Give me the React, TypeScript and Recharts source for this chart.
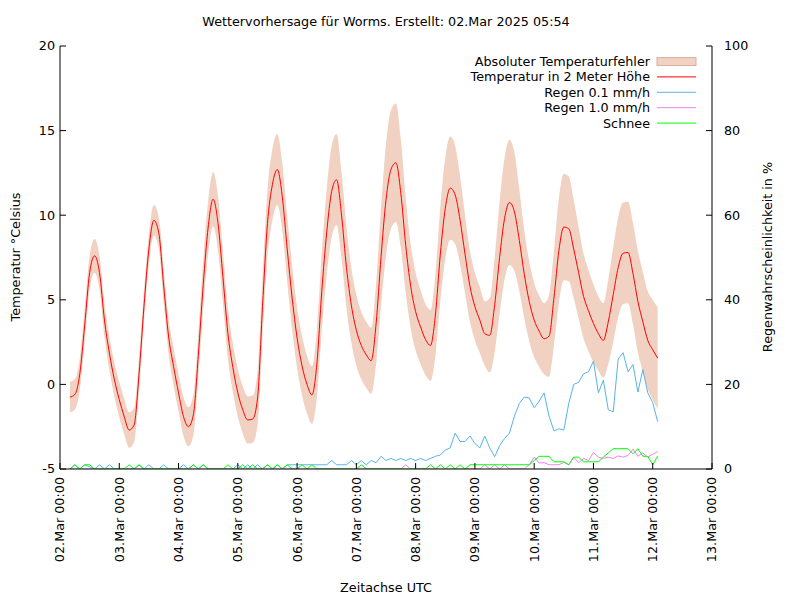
import { Area, ComposedChart, Line, XAxis, YAxis } from "recharts";

// forecast samples every 2 hours, first one at 02.Mar 04:00 UTC
const START_HOUR = 4;
const STEP_HOURS = 2;

const dayLabels = [
  "02.Mar 00:00", "03.Mar 00:00", "04.Mar 00:00", "05.Mar 00:00",
  "06.Mar 00:00", "07.Mar 00:00", "08.Mar 00:00", "09.Mar 00:00",
  "10.Mar 00:00", "11.Mar 00:00", "12.Mar 00:00", "13.Mar 00:00",
];
const dayTicks = dayLabels.map((_, i) => i * 24);
const tempTicks = [-5, 0, 5, 10, 15, 20];
const rainTicks = [0, 20, 40, 60, 80, 100];

// one row per day (12 samples)
const temperature = [
  -0.75, -0.6, 0.6, 3.5, 6.6, 7.6, 6.6, 3.8, 1.85, 0.3, -0.9, -1.9,
  -2.7, -2.4, 0.6, 4.6, 8.0, 9.7, 8.95, 5.8, 2.8, 1.05, -0.5, -1.9,
  -2.5, -1.8, 1.7, 5.9, 9.3, 10.95, 9.5, 6.3, 3.0, 1.0, -0.5, -1.5,
  -2.1, -2.05, -0.8, 4.6, 9.5, 11.8, 12.7, 11.1, 8.0, 5.1, 2.75, 1.1,
  0.0, -0.62, 1.2, 5.5, 9.0, 11.4, 12.1, 10.0, 6.9, 4.65, 3.2, 2.3,
  1.75, 1.4, 3.6, 7.55, 10.9, 12.7, 13.1, 11.3, 8.2, 5.8, 4.3, 3.4,
  2.65, 2.3, 4.1, 7.7, 10.4, 11.6, 11.2, 9.7, 7.7, 5.8, 4.6, 3.8,
  3.0, 2.9, 4.7, 7.5, 9.8, 10.75, 10.2, 8.5, 6.5, 4.9, 3.8, 3.15,
  2.7, 2.85, 5.1, 7.9, 9.3, 9.2, 8.0, 6.6, 5.2, 4.35, 3.6, 3.0,
  2.6, 3.7, 5.3, 6.9, 7.75, 7.8, 6.55, 4.9, 3.7, 2.6, 2.05, 1.55,
];

const tempError = [
  0.9, 0.9, 0.95, 1.0, 1.0, 1.0, 1.0, 1.0, 1.0, 1.0, 1.05, 1.05,
  1.05, 1.0, 1.0, 0.95, 0.9, 0.9, 0.95, 1.0, 1.05, 1.1, 1.1, 1.15,
  1.15, 1.2, 1.3, 1.45, 1.55, 1.6, 1.6, 1.55, 1.5, 1.45, 1.4, 1.4,
  1.4, 1.4, 1.6, 1.8, 2.0, 2.1, 2.1, 2.0, 1.95, 1.9, 1.8, 1.75,
  1.7, 1.7, 2.0, 2.3, 2.55, 2.7, 2.7, 2.55, 2.4, 2.2, 2.1, 2.0,
  1.95, 1.95, 2.4, 2.9, 3.3, 3.5, 3.5, 3.2, 2.8, 2.5, 2.3, 2.2,
  2.1, 2.1, 2.4, 2.8, 3.0, 3.05, 2.9, 2.6, 2.3, 2.1, 2.0, 1.95,
  1.9, 2.2, 2.8, 3.3, 3.6, 3.7, 3.5, 3.0, 2.6, 2.35, 2.2, 2.1,
  2.1, 2.4, 2.8, 3.1, 3.15, 3.1, 2.9, 2.7, 2.5, 2.4, 2.3, 2.2,
  2.2, 2.5, 2.8, 2.95, 3.0, 3.0, 3.0, 3.0, 2.95, 2.9, 2.95, 3.0,
];

const rain01 = [
  0, 1, 0, 1, 0.5, 0, 1, 0, 1, 0, 0, 0,
  0, 0, 1, 0, 1, 0, 0, 1, 0, 0, 0, 1,
  0, 1, 0, 1, 0, 0, 0, 0, 0, 0, 1, 0,
  1, 0, 1, 0, 1, 0, 1, 0, 1, 1, 1, 1,
  1, 1, 1, 1, 1, 2, 1, 1, 1, 2, 1, 2,
  1, 2, 1.5, 3, 2, 2.5, 2, 2.5, 2, 2.5, 2, 2.5,
  2, 2.5, 3, 3.3, 4.5, 5, 8.5, 6.5, 6.5, 7.8, 6, 5,
  7.8, 5, 2.9, 5.5, 7.2, 8.5, 12.5, 15.5, 17, 16.8, 14.5, 16,
  18, 12.5, 9, 9.5, 9.2, 15.5, 20, 20.5, 22.5, 23, 25.5, 18,
  21, 14, 13.5, 26, 27.5, 23, 24.7, 18.2, 23.5, 18, 15.7, 11.2,
];

const rain10 = [
  0, 0, 0, 0, 0, 0, 0, 0, 0, 0, 0, 0,
  0, 0, 0, 0, 0, 0, 0, 0, 0, 0, 0, 0,
  0, 0, 0, 0, 0, 0, 0, 0, 0, 0, 0, 0,
  0, 0, 0, 0, 0, 0, 0, 0, 0, 0, 0, 0,
  0, 0, 0, 0, 0, 0, 0, 0, 0, 0, 0, 0,
  0, 0, 0, 0, 0, 0, 0, 0, 1, 0, 0, 0,
  0, 0, 0, 0, 0, 0, 0, 0, 0, 0, 0, 0,
  1, 0, 1, 0, 1, 0, 0, 0, 0, 1, 2.8, 1.4,
  1.5, 1, 1, 1, 1.6, 1, 2.8, 1.5, 2.5, 2, 3.9, 2.8,
  2.5, 2.8, 2.5, 3.1, 2.8, 3.2, 4.7, 3, 3.8, 2.8, 3.5, 4.1,
];

const snow = [
  0, 1, 0, 1, 1, 0, 0, 0, 0, 0, 0, 0,
  1, 0, 1, 0, 0, 0, 0, 0, 0, 0, 0, 0,
  0, 1, 0, 1, 0, 0, 0, 0, 1, 0, 0, 1,
  0, 1, 0, 0, 1, 0, 1, 0, 1, 0, 0, 1,
  0, 1, 0, 0, 0, 0, 0, 0, 0, 0, 0, 1,
  0, 0, 0, 0, 0, 0, 0, 0, 0, 0, 0, 0,
  0, 1, 0, 1, 0, 1, 0, 1, 0, 1, 1, 1,
  1, 1, 1, 1, 1, 1, 1, 1, 1, 1, 2, 3,
  3, 3, 1.7, 1.7, 1.7, 1, 2.8, 2.8, 1.7, 1.7, 1.7, 1.7,
  2.8, 3.8, 4.8, 4.8, 4.8, 4.8, 3.6, 4.8, 3, 3, 1, 3.1,
];

const rows = temperature.map((t, i) => ({
  hour: START_HOUR + i * STEP_HOURS,
  temp: t,
  band: [t - tempError[i], t + tempError[i]],
  rain01: rain01[i],
  rain10: rain10[i],
  snow: snow[i],
}));

const FONT = "'DejaVu Sans', sans-serif";
const FS = 12.75;
const BAND = "#f1d1c1";
const RED = "#ff0000";
const BLUE = "#56b4e9";
const VIOLET = "#ee82ee";
const GREEN = "#00ff00";

const legendItems = [
  { label: "Absoluter Temperaturfehler", color: BAND, box: true },
  { label: "Temperatur in 2 Meter Höhe", color: RED, box: false },
  { label: "Regen 0.1 mm/h", color: BLUE, box: false },
  { label: "Regen 1.0 mm/h", color: VIOLET, box: false },
  { label: "Schnee", color: GREEN, box: false },
];

function BottomTick({ x, y, payload }: any) {
  return (
    <g>
      <line x1={x} y1={y} x2={x} y2={y - 6} stroke="#000" />
      <text
        transform={`translate(${x},${y + 8}) rotate(-90)`}
        textAnchor="end"
        dy="0.35em"
        fontSize={FS}
        fontFamily={FONT}
        fill="#000"
      >
        {dayLabels[Math.round(payload.value / 24)]}
      </text>
    </g>
  );
}

function TopTick({ x, y }: any) {
  return <line x1={x} y1={y} x2={x} y2={y + 6} stroke="#000" />;
}

function LeftTick({ x, y, payload }: any) {
  return (
    <g>
      <line x1={x} y1={y} x2={x + 6} y2={y} stroke="#000" />
      <text x={x - 5} y={y} dy="0.35em" textAnchor="end" fontSize={FS} fontFamily={FONT} fill="#000">
        {payload.value}
      </text>
    </g>
  );
}

function RightTick({ x, y, payload }: any) {
  return (
    <g>
      <line x1={x} y1={y} x2={x - 6} y2={y} stroke="#000" />
      <text x={x + 12} y={y} dy="0.35em" textAnchor="start" fontSize={FS} fontFamily={FONT} fill="#000">
        {payload.value}
      </text>
    </g>
  );
}

export default function App() {
  return (
    <div style={{ position: "relative", width: 800, height: 600, background: "#fff" }}>
      <style>{"body{margin:0}"}</style>
      <ComposedChart width={800} height={600} data={rows} margin={{ top: 46, right: 0, bottom: 0, left: 0 }}>
        <XAxis
          xAxisId="b"
          dataKey="hour"
          type="number"
          domain={[0, 264]}
          ticks={dayTicks}
          interval={0}
          height={131}
          tickSize={0}
          tickMargin={0}
          tickLine={false}
          axisLine={{ stroke: "#000" }}
          tick={<BottomTick />}
          allowDataOverflow
        />
        <XAxis
          xAxisId="t"
          dataKey="hour"
          type="number"
          orientation="top"
          domain={[0, 264]}
          ticks={dayTicks}
          interval={0}
          height={0}
          tickSize={0}
          tickMargin={0}
          tickLine={false}
          axisLine={{ stroke: "#000" }}
          tick={<TopTick />}
          allowDataOverflow
        />
        <YAxis
          yAxisId="l"
          type="number"
          domain={[-5, 20]}
          ticks={tempTicks}
          interval={0}
          width={60}
          tickSize={0}
          tickMargin={0}
          tickLine={false}
          axisLine={{ stroke: "#000" }}
          tick={<LeftTick />}
          allowDataOverflow
        />
        <YAxis
          yAxisId="r"
          orientation="right"
          type="number"
          domain={[0, 100]}
          ticks={rainTicks}
          interval={0}
          width={88}
          tickSize={0}
          tickMargin={0}
          tickLine={false}
          axisLine={{ stroke: "#000" }}
          tick={<RightTick />}
          allowDataOverflow
        />
        <Area
          xAxisId="b"
          yAxisId="l"
          dataKey="band"
          type="monotone"
          stroke="none"
          fill={BAND}
          fillOpacity={1}
          dot={false}
          activeDot={false}
          isAnimationActive={false}
        />
        <Line xAxisId="b" yAxisId="l" dataKey="temp" type="monotone" stroke={RED} strokeWidth={1} dot={false} activeDot={false} isAnimationActive={false} />
        <Line xAxisId="b" yAxisId="r" dataKey="rain01" type="linear" stroke={BLUE} strokeWidth={1} dot={false} activeDot={false} isAnimationActive={false} />
        <Line xAxisId="b" yAxisId="r" dataKey="rain10" type="linear" stroke={VIOLET} strokeWidth={1} dot={false} activeDot={false} isAnimationActive={false} />
        <Line xAxisId="b" yAxisId="r" dataKey="snow" type="linear" stroke={GREEN} strokeWidth={1} dot={false} activeDot={false} isAnimationActive={false} />
      </ComposedChart>
      <svg
        width={800}
        height={600}
        style={{ position: "absolute", left: 0, top: 0, pointerEvents: "none" }}
        fontFamily={FONT}
        fontSize={FS}
      >
        <text x={386} y={26} textAnchor="middle">
          Wettervorhersage für Worms. Erstellt: 02.Mar 2025 05:54
        </text>
        <text x={386} y={592} textAnchor="middle">
          Zeitachse UTC
        </text>
        <text transform="translate(16,257) rotate(-90)" textAnchor="middle" dy="0.35em">
          Temperatur °Celsius
        </text>
        <text transform="translate(768,257) rotate(-90)" textAnchor="middle" dy="0.35em">
          Regenwahrscheinlichkeit in %
        </text>
        {legendItems.map((item, i) => {
          const cy = 61.5 + i * 15.4;
          return (
            <g key={item.label}>
              <text x={650} y={cy} dy="0.35em" textAnchor="end">
                {item.label}
              </text>
              {item.box ? (
                <rect x={657} y={cy - 4} width={39} height={8} fill={BAND} stroke="#dcb09a" strokeWidth={1} />
              ) : (
                <line x1={657} y1={cy} x2={696} y2={cy} stroke={item.color} strokeWidth={1} />
              )}
            </g>
          );
        })}
      </svg>
    </div>
  );
}
